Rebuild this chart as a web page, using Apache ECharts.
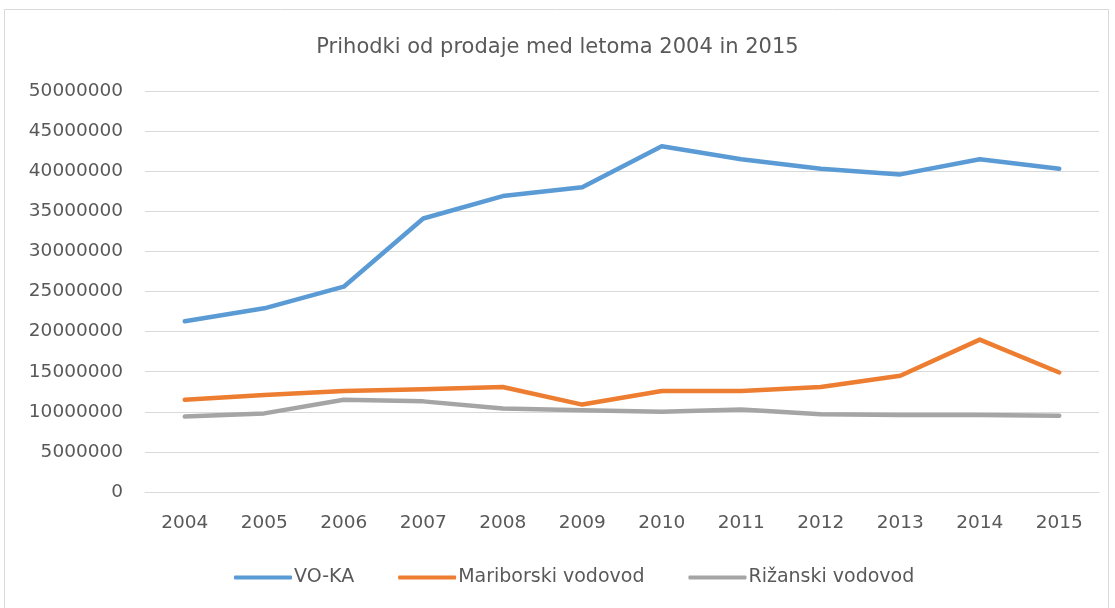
<!DOCTYPE html>
<html>
<head>
<meta charset="utf-8">
<script src="https://cdn.jsdelivr.net/npm/echarts@6/dist/echarts.min.js"></script>
<style>
  html, body { margin: 0; padding: 0; background: #fff; }
  #chart { width: 1115px; height: 608px; }
</style>
</head>
<body>
<div id="chart"></div>
<script>
const years = ["2004", "2005", "2006", "2007", "2008", "2009", "2010", "2011", "2012", "2013", "2014", "2015"];
const vokaValues = [21300000, 22900000, 25600000, 34100000, 36900000, 38000000, 43100000, 41500000, 40300000, 39600000, 41500000, 40300000];
const mariborValues = [11500000, 12100000, 12600000, 12800000, 13100000, 10900000, 12600000, 12600000, 13100000, 14500000, 19000000, 14900000];
const rizanValues = [9400000, 9800000, 11500000, 11300000, 10400000, 10200000, 10000000, 10300000, 9700000, 9600000, 9600000, 9500000];

const FONT = "DejaVu Sans";
const TEXT = "#595959";

const chart = echarts.init(document.getElementById("chart"));

function lineSeries(name, data, color) {
  return {
    name,
    type: "line",
    data,
    symbol: "none",
    lineStyle: { color, width: 4.5, cap: "round", join: "round" },
    itemStyle: { color },
  };
}

chart.setOption({
  animation: false,
  graphic: [
    {
      type: "rect",
      shape: { x: 4.5, y: 9.5, width: 1104, height: 620 },
      style: { fill: "none", stroke: "#d9d9d9", lineWidth: 1 },
      silent: true,
    },
  ],
  title: {
    text: "Prihodki od prodaje med letoma 2004 in 2015",
    left: "center",
    top: 32,
    textStyle: { fontFamily: FONT, fontSize: 21, fontWeight: "normal", color: TEXT },
  },
  legend: {
    top: 563,
    left: 229,
    itemWidth: 58,
    itemHeight: 4,
    itemGap: 44,
    icon: "roundRect",
    textStyle: { fontFamily: FONT, fontSize: 19, color: TEXT, padding: [0, 0, 0, -3] },
    data: ["VO-KA", "Mariborski vodovod", "Rižanski vodovod"],
  },
  grid: { left: 145, right: 16, top: 91, bottom: 116, containLabel: false },
  xAxis: {
    type: "category",
    data: years,
    boundaryGap: true,
    axisLine: { lineStyle: { color: "#d9d9d9" } },
    axisTick: { show: false },
    axisLabel: { fontFamily: FONT, fontSize: 18.5, color: TEXT, margin: 22 },
  },
  yAxis: {
    type: "value",
    min: 0,
    max: 50000000,
    interval: 5000000,
    axisLine: { show: false },
    axisTick: { show: false },
    splitLine: { lineStyle: { color: "#d9d9d9", width: 1 } },
    axisLabel: {
      fontFamily: FONT,
      fontSize: 18.5,
      color: TEXT,
      margin: 22,
      formatter: (v) => String(v),
    },
  },
  series: [
    lineSeries("VO-KA", vokaValues, "#5B9BD5"),
    lineSeries("Mariborski vodovod", mariborValues, "#ED7D31"),
    lineSeries("Rižanski vodovod", rizanValues, "#A5A5A5"),
  ],
});
</script>
</body>
</html>
